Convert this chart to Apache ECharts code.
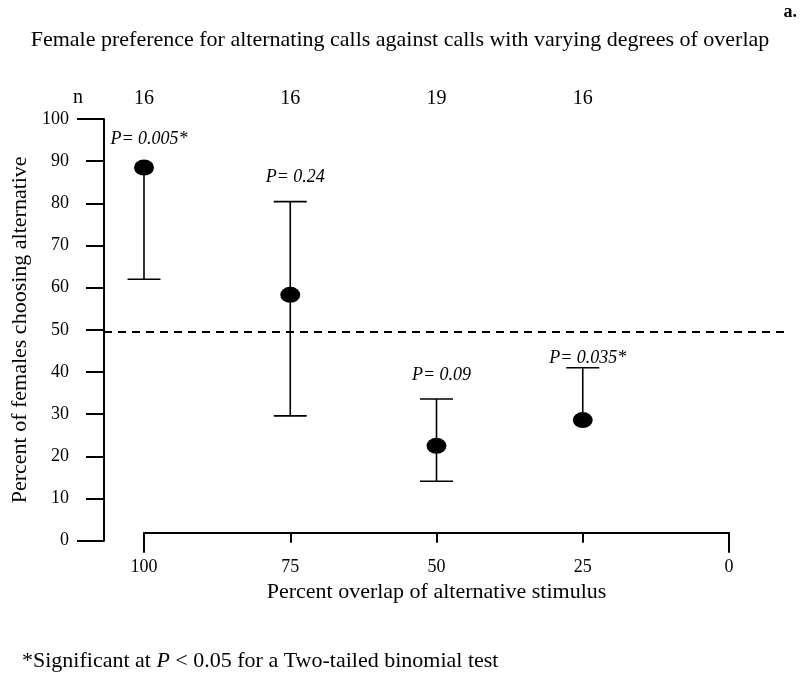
<!DOCTYPE html>
<html>
<head>
<meta charset="utf-8">
<script src="https://cdn.jsdelivr.net/npm/echarts@6/dist/echarts.min.js"></script>
<style>html,body{margin:0;padding:0;background:#fff}#c{width:800px;height:683px}</style>
</head>
<body>
<div id="c"></div>
<script>
// ---- data ----
const overlapPct = [100, 75, 50, 25];
const meanPct = [88.5, 58.3, 22.5, 28.6];
const errLow = [62, 29.6, 14.1, null];
const errHigh = [null, 80.4, 33.6, 41.0];
const nValues = [16, 16, 19, 16];
const pLabels = ['P= 0.005*', 'P= 0.24', 'P= 0.09', 'P= 0.035*'];
const pLabelAt = [95.1, 86.2, 39.3, 43.3];
const chanceLevel = 49.5;

const FONT = '"Liberation Serif","Times New Roman",serif';
const chart = echarts.init(document.getElementById('c'), null, {renderer: 'canvas'});

const nMap = {};
overlapPct.forEach((x, i) => nMap[x] = nValues[i]);

const barData = overlapPct.map((x, i) => [x, meanPct[i], errLow[i], errHigh[i], pLabels[i], pLabelAt[i]]);

const option = {
  animation: false,
  backgroundColor: '#fff',
  title: {
    text: 'Female preference for alternating calls against calls with varying degrees of overlap',
    left: 'center', top: 24,
    textStyle: {fontFamily: FONT, fontSize: 22, fontWeight: 'normal', color: '#000'}
  },
  grid: {left: 144, right: 71, top: 119, bottom: 142.3},
  xAxis: [
    {
      type: 'value', min: 0, max: 100, interval: 25, inverse: true, position: 'bottom', offset: -8,
      axisLine: {show: true, onZero: false, lineStyle: {color: '#000', width: 2}},
      axisTick: {show: true, length: 10, lineStyle: {color: '#000', width: 2}},
      axisLabel: {color: '#000', fontFamily: FONT, fontSize: 18, margin: 26},
      splitLine: {show: false},
      name: 'Percent overlap of alternative stimulus', nameLocation: 'middle', nameGap: 48,
      nameTextStyle: {fontFamily: FONT, fontSize: 22, color: '#000'}
    },
    {
      type: 'value', min: 0, max: 100, interval: 100, inverse: true, position: 'bottom', offset: -8,
      axisLine: {show: false, onZero: false},
      axisTick: {show: true, length: 20, lineStyle: {color: '#000', width: 2}},
      axisLabel: {show: false}, splitLine: {show: false}
    },
    {
      type: 'value', min: 0, max: 100, interval: 25, inverse: true, position: 'top',
      axisLine: {show: false, onZero: false}, axisTick: {show: false}, splitLine: {show: false},
      axisLabel: {color: '#000', fontFamily: FONT, fontSize: 20, margin: 10,
        formatter: v => (nMap[v] !== undefined ? String(nMap[v]) : '')}
    }
  ],
  yAxis: [
    {
      type: 'value', min: 0, max: 100, interval: 10, offset: 40, position: 'left',
      axisLine: {show: true, onZero: false, lineStyle: {color: '#000', width: 2}},
      axisTick: {show: true, length: 18, lineStyle: {color: '#000', width: 2}},
      axisLabel: {color: '#000', fontFamily: FONT, fontSize: 18, margin: 35},
      splitLine: {show: false},
      name: 'Percent of females choosing alternative', nameLocation: 'middle', nameGap: 71,
      nameTextStyle: {fontFamily: FONT, fontSize: 22, color: '#000'}
    },
    {
      type: 'value', min: 0, max: 100, interval: 100, offset: 40, position: 'left',
      axisLine: {show: false, onZero: false},
      axisTick: {show: true, length: 27, lineStyle: {color: '#000', width: 2}},
      axisLabel: {show: false}, splitLine: {show: false}
    }
  ],
  series: [
    {
      type: 'custom', name: 'chance', xAxisIndex: 0, yAxisIndex: 0,
      data: [[50, chanceLevel]],
      renderItem: function (params, api) {
        const cs = params.coordSys;
        const y = api.coord([50, api.value(1)])[1];
        return {
          type: 'line',
          shape: {x1: cs.x - 40, y1: y, x2: cs.x + cs.width + 56, y2: y},
          style: {stroke: '#000', lineWidth: 2, lineDash: [8, 6]}
        };
      }
    },
    {
      type: 'custom', name: 'errors', xAxisIndex: 0, yAxisIndex: 0,
      data: barData,
      renderItem: function (params, api) {
        const i = params.dataIndex;
        const d = barData[i];
        const x = d[0], m = d[1], lo = d[2], hi = d[3];
        const cap = 16.5;
        const children = [];
        const pm = api.coord([x, m]);
        const style = {stroke: '#000', lineWidth: 1.6};
        if (lo != null) {
          const pl = api.coord([x, lo]);
          children.push({type: 'line', shape: {x1: pm[0], y1: pm[1], x2: pl[0], y2: pl[1]}, style});
          children.push({type: 'line', shape: {x1: pl[0] - cap, y1: pl[1], x2: pl[0] + cap, y2: pl[1]}, style});
        }
        if (hi != null) {
          const ph = api.coord([x, hi]);
          children.push({type: 'line', shape: {x1: pm[0], y1: pm[1], x2: ph[0], y2: ph[1]}, style});
          children.push({type: 'line', shape: {x1: ph[0] - cap, y1: ph[1], x2: ph[0] + cap, y2: ph[1]}, style});
        }
        const pt = api.coord([x, d[5]]);
        children.push({
          type: 'text',
          style: {x: pt[0] + 5, y: pt[1], text: d[4], align: 'center', verticalAlign: 'middle',
            font: 'italic 18px ' + FONT, fill: '#000'}
        });
        return {type: 'group', children};
      }
    },
    {
      type: 'scatter', name: 'mean', xAxisIndex: 0, yAxisIndex: 0,
      data: overlapPct.map((x, i) => [x, meanPct[i]]),
      symbol: 'circle', symbolSize: [20, 16],
      itemStyle: {color: '#000', opacity: 1}, z: 5
    }
  ],
  graphic: [
    {type: 'text', right: 3, top: 3, style: {text: 'a.', font: 'bold 18px ' + FONT, fill: '#000'}},
    {type: 'text', left: 73, top: 88, style: {text: 'n', font: '20px ' + FONT, fill: '#000'}},
    {
      type: 'text', left: 22, top: 650,
      style: {
        text: '*Significant at {i|P} < 0.05 for a Two-tailed binomial test',
        font: '22px ' + FONT, fill: '#000',
        rich: {i: {fontStyle: 'italic', fontFamily: FONT, fontSize: 22, fill: '#000'}}
      }
    }
  ]
};
chart.setOption(option);
</script>
</body>
</html>
